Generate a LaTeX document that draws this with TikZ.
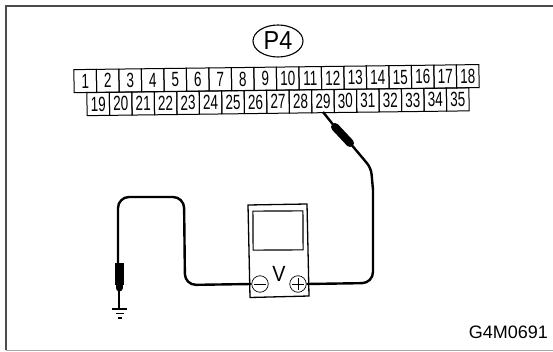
\documentclass[tikz,border=0pt]{standalone}
\usepackage{fontspec}
\setmainfont{Liberation Sans}
\newfontfamily\pinfont[FakeStretch=.66]{Liberation Sans}
\newfontfamily\tagfont[FakeStretch=.9]{Liberation Sans}
\usetikzlibrary{shapes,positioning,calc}
\definecolor{myframe}{gray}{.3}
\begin{document}
\begin{tikzpicture}
[
  x=1pt, y=-1pt,
  pin box/.style={draw, line width=1pt, minimum width=22.5pt, minimum height=23pt, inner sep=0pt, rotate=.7, font=\pinfont\fontsize{20.5}{21}\selectfont},
  wire/.style={line width=2.4pt, rounded corners=11pt},
  probe/.style={line width=9pt, line cap=round},
  jack/.style={circle, draw, line width=.7pt, minimum width=16.5pt, inner sep=0pt}
]
\path [use as bounding box] (0,0) rectangle (553,352);
\draw [myframe, line width=2pt] (6,350) -- (6,6) -- (553,6);
\draw [gray!70, line width=1.5pt] (6,350.5) -- (553,350.5);

\node (tag) [ellipse, draw, line width=1.1pt, minimum width=50pt, minimum height=32pt, inner sep=0pt, font=\tagfont\fontsize{26}{26}\selectfont] at (278,41) {P4};

% upper row 1..18, lower row 19..35
\foreach \i in {1,...,18}
  \node (p\i) [pin box] at ({74+22.5*(\i-.5)}, {81-.0125*22.5*(\i-1)}) {\i};
\foreach \i [evaluate=\i as \k using int(\i-18)] in {19,...,35}
  \node (p\i) [pin box] at ({87+22.47*(\k-.5)}, {104-.0125*22.5*(\k-1)}) {\i};

% meter
\draw [line width=1.3pt] (248,205) -- (307,204) -- (309,296) -- (250,297.5) -- cycle;
\node (meter) [draw, line width=1.1pt, minimum width=50pt, minimum height=39pt, inner sep=0pt, rotate=.2] at (278,230.5) {};
\node (volt) [font=\tagfont\fontsize{22}{22}\selectfont, inner sep=0pt] at (279,274) {V};
\node (minus) [jack] at (260,284) {};
\node (plus) [jack] at (298,284) {};
\draw [line width=1pt] ($(minus.west)+(2.5,0)$) -- ($(minus.east)+(-2.5,0)$);
\draw [line width=1pt] ($(plus.west)+(2.5,0)$) -- ($(plus.east)+(-2.5,0)$);
\draw [line width=1pt] ($(plus.north)+(0,2.5)$) -- ($(plus.south)+(0,-2.5)$);

% leads
\coordinate (tip) at (323,112);
\coordinate (earth) at (119,309);
\draw [line width=2.4pt] (tip) -- (335,127);
\draw [probe, line width=8pt] (335,127) -- (350,143);
\draw [wire, rounded corners=6pt] (350,143) -- (371,168) -- (373,190);
\draw [wire] (373,190) -- (373,283) -- (plus.east);
\draw [wire] (minus.west) -- (185,285) -- (184,197) -- (118,197) -- (118,265);
\draw [probe, line cap=butt] (119,263) -- (119,285);
\draw [probe, line width=7pt] (119,285) -- (119,288);
\draw [line width=2pt] (119,288) -- (earth);

% earth
\draw [line width=1.2pt] (112,309) -- (127,309);
\draw [line width=1.1pt] (116,313.5) -- (124,313.5);
\draw [line width=1.1pt] (118,318) -- (122,318);

\node (code) [font=\fontsize{18}{18}\selectfont, inner sep=0pt, anchor=east] at (548,332) {G4M0691};
\end{tikzpicture}
\end{document}
